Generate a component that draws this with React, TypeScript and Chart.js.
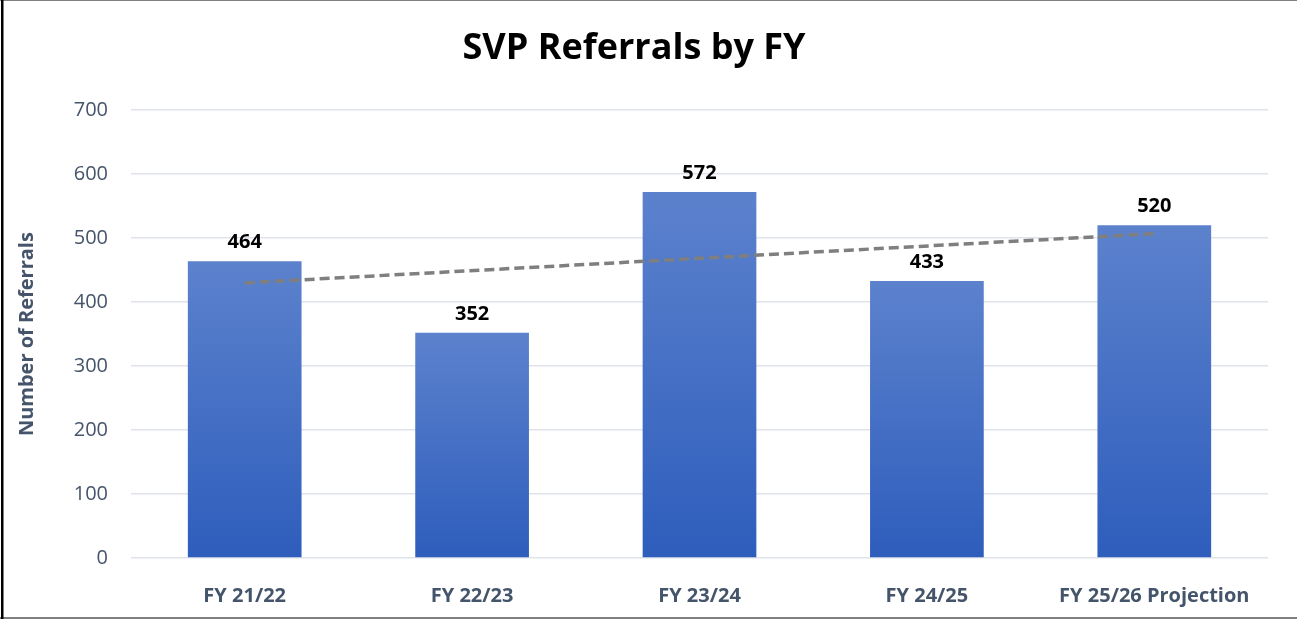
import React, { useEffect, useRef } from "react";
import { Chart, registerables } from "chart.js";

Chart.register(...registerables);

const chartTitle = "SVP Referrals by FY";
const yAxisTitle = "Number of Referrals";
const categories = ["FY 21/22", "FY 22/23", "FY 23/24", "FY 24/25", "FY 25/26 Projection"];
const referrals = [464, 352, 572, 433, 520];
// dashed trend line, read at the first and last category
const trendline = [430, null, null, null, 507];
const yMin = 0;
const yMax = 700;
const yStep = 100;

const FONT = "'Open Sans', sans-serif";
const SLATE = "#44546A";
const BAR_TOP = "#5C82CD";
const BAR_BOTTOM = "#2E5DBC";

const valueLabels = {
  id: "valueLabels",
  afterDatasetsDraw(chart: any) {
    const meta = chart.getDatasetMeta(1);
    const ctx = chart.ctx;
    ctx.save();
    ctx.font = `bold 20px ${FONT}`;
    ctx.fillStyle = "#000000";
    ctx.textAlign = "center";
    ctx.textBaseline = "middle";
    meta.data.forEach((bar: any, i: number) => {
      ctx.fillText(String(referrals[i]), bar.x, bar.y - 19);
    });
    ctx.restore();
  },
};

const frame = {
  id: "frame",
  afterDraw(chart: any) {
    const ctx = chart.ctx;
    const w = chart.width;
    const h = chart.height;
    ctx.save();
    ctx.fillStyle = "#808080";
    ctx.fillRect(0, 0, w, 1);
    ctx.fillRect(0, h - 2, w, 2);
    ctx.fillStyle = "#000000";
    ctx.fillRect(1, 0, 2.5, h);
    ctx.restore();
  },
};

export default function App() {
  const ref = useRef<HTMLCanvasElement | null>(null);

  useEffect(() => {
    if (!ref.current) return;
    const chart = new Chart(ref.current, {
      type: "bar",
      data: {
        labels: categories,
        datasets: [
          {
            type: "line",
            label: "Trend",
            data: trendline as any,
            spanGaps: true,
            borderColor: "#7F7F7F",
            borderWidth: 3.5,
            borderDash: [10, 5],
            pointRadius: 0,
            fill: false,
            order: 0,
          } as any,
          {
            type: "bar",
            label: "Referrals",
            data: referrals,
            order: 1,
            categoryPercentage: 1,
            barPercentage: 0.5,
            backgroundColor: (c: any) => {
              const ch = c.chart;
              if (!ch.chartArea || c.type !== "data" || !ch.scales.y) return BAR_BOTTOM;
              const top = ch.scales.y.getPixelForValue(c.raw);
              const base = ch.scales.y.getPixelForValue(0);
              if (!isFinite(top) || !isFinite(base) || top === base) return BAR_BOTTOM;
              const g = ch.ctx.createLinearGradient(0, top, 0, base);
              g.addColorStop(0, BAR_TOP);
              g.addColorStop(1, BAR_BOTTOM);
              return g;
            },
          } as any,
        ],
      },
      options: {
        responsive: false,
        animation: false,
        devicePixelRatio: 1,
        layout: { padding: { left: 0, right: 29, top: 0, bottom: 0 } },
        plugins: {
          legend: { display: false },
          tooltip: { enabled: false },
          title: {
            display: true,
            text: chartTitle,
            color: "#000000",
            font: { family: FONT, size: 36, weight: "bold" },
            padding: { top: 27, bottom: 40 },
          },
        },
        scales: {
          x: {
            grid: { display: false },
            border: { display: false },
            ticks: {
              color: SLATE,
              font: { family: FONT, size: 20, weight: "bold" },
              padding: 18,
              maxRotation: 0,
              autoSkip: false,
            },
            afterFit: (s: any) => {
              s.height = 61;
            },
          },
          y: {
            min: yMin,
            max: yMax,
            grid: { color: "#DFE3EA", lineWidth: 1.5, drawTicks: false },
            border: { display: false },
            ticks: {
              stepSize: yStep,
              color: SLATE,
              font: { family: FONT, size: 20 },
              padding: 23,
            },
            title: {
              display: true,
              text: yAxisTitle,
              color: SLATE,
              font: { family: FONT, size: 20, weight: "bold" },
              padding: { top: 15, bottom: 0 },
            },
            afterFit: (s: any) => {
              s.width = 131;
            },
          },
        },
      },
      plugins: [valueLabels, frame],
    });
    return () => chart.destroy();
  }, []);

  return (
    <div style={{ position: "absolute", left: 0, top: 0, width: 1297, height: 619, background: "#ffffff" }}>
      <canvas ref={ref} width={1297} height={619} style={{ display: "block" }} />
    </div>
  );
}
